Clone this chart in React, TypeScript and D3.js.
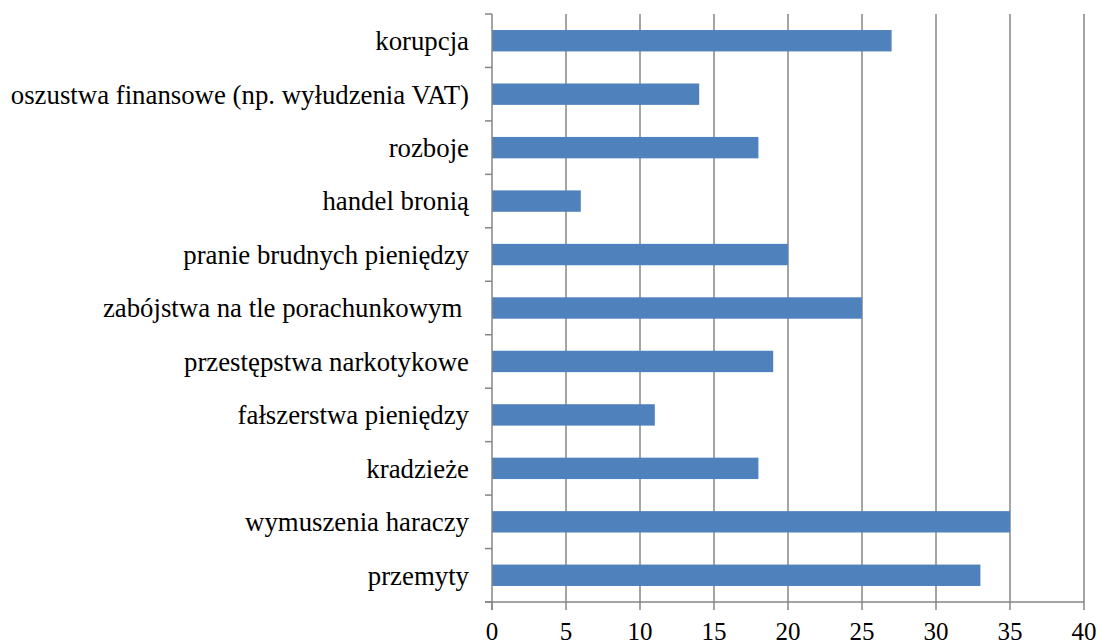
import React, { useEffect, useRef } from "react";
import * as d3 from "d3";

const categories = [
  "korupcja",
  "oszustwa finansowe (np. wyłudzenia VAT)",
  "rozboje",
  "handel bronią",
  "pranie brudnych pieniędzy",
  "zabójstwa na tle porachunkowym ",
  "przestępstwa narkotykowe",
  "fałszerstwa pieniędzy",
  "kradzieże",
  "wymuszenia haraczy",
  "przemyty",
];
const values = [27, 14, 18, 6, 20, 25, 19, 11, 18, 35, 33];
const xTicks = [0, 5, 10, 15, 20, 25, 30, 35, 40];

const width = 1100;
const height = 643;
const margin = { top: 14, right: 16, bottom: 41, left: 492 };
const axisColor = "#868686";
const barColor = "#4F81BD";
const font = '"Liberation Serif", "Times New Roman", Tinos, "DejaVu Serif", serif';

const App = () => {
  const svgRef = useRef<SVGSVGElement>(null);

  useEffect(() => {
    const svg = d3.select(svgRef.current);
    svg.selectAll("*").remove();
    const innerW = width - margin.left - margin.right;
    const innerH = height - margin.top - margin.bottom;

    const x = d3.scaleLinear().domain([0, 40]).range([0, innerW]);
    const y = d3.scaleBand().domain(categories).range([0, innerH]).paddingInner(0.6).paddingOuter(0.3);
    const bandStep = innerH / categories.length;

    const g = svg.append("g").attr("transform", `translate(${margin.left},${margin.top})`);

    // vertical gridlines
    g.selectAll("line.grid")
      .data(xTicks.slice(1))
      .enter()
      .append("line")
      .attr("class", "grid")
      .attr("x1", (d) => x(d))
      .attr("x2", (d) => x(d))
      .attr("y1", 0)
      .attr("y2", innerH)
      .attr("stroke", axisColor)
      .attr("stroke-width", 1.5);

    // bars
    g.selectAll("rect.bar")
      .data(values)
      .enter()
      .append("rect")
      .attr("class", "bar")
      .attr("x", 0)
      .attr("y", (d, i) => y(categories[i]) as number)
      .attr("width", (d) => x(d))
      .attr("height", y.bandwidth())
      .attr("fill", barColor);

    // y axis line + ticks between categories
    g.append("line")
      .attr("x1", 0)
      .attr("x2", 0)
      .attr("y1", 0)
      .attr("y2", innerH + 8)
      .attr("stroke", axisColor)
      .attr("stroke-width", 1.5);
    g.selectAll("line.ytick")
      .data(d3.range(categories.length + 1))
      .enter()
      .append("line")
      .attr("class", "ytick")
      .attr("x1", -7)
      .attr("x2", 0)
      .attr("y1", (i) => i * bandStep)
      .attr("y2", (i) => i * bandStep)
      .attr("stroke", axisColor)
      .attr("stroke-width", 1.5);

    // x axis line + ticks
    g.append("line")
      .attr("x1", -7)
      .attr("x2", innerW)
      .attr("y1", innerH)
      .attr("y2", innerH)
      .attr("stroke", axisColor)
      .attr("stroke-width", 1.5);
    g.selectAll("line.xtick")
      .data(xTicks)
      .enter()
      .append("line")
      .attr("class", "xtick")
      .attr("x1", (d) => x(d))
      .attr("x2", (d) => x(d))
      .attr("y1", innerH)
      .attr("y2", innerH + 8)
      .attr("stroke", axisColor)
      .attr("stroke-width", 1.5);

    // x tick labels
    g.selectAll("text.xlabel")
      .data(xTicks)
      .enter()
      .append("text")
      .attr("class", "xlabel")
      .attr("x", (d) => x(d))
      .attr("y", innerH + 38)
      .attr("text-anchor", "middle")
      .style("font-size", "25px")
      .style("fill", "#000")
      .text((d) => d);

    // category labels
    g.selectAll("text.ylabel")
      .data(categories)
      .enter()
      .append("text")
      .attr("class", "ylabel")
      .attr("x", -23)
      .attr("y", (d) => (y(d) as number) + y.bandwidth() / 2)
      .attr("dy", "0.35em")
      .attr("text-anchor", "end")
      .style("font-size", "26.8px")
      .style("fill", "#000")
      .style("white-space", "pre")
      .text((d) => d);
  }, []);

  return (
    <svg
      ref={svgRef}
      width={width}
      height={height}
      fontFamily={font}
      style={{ position: "absolute", left: 0, top: 0, background: "#fff", fontFamily: font }}
    ></svg>
  );
};

export default App;
